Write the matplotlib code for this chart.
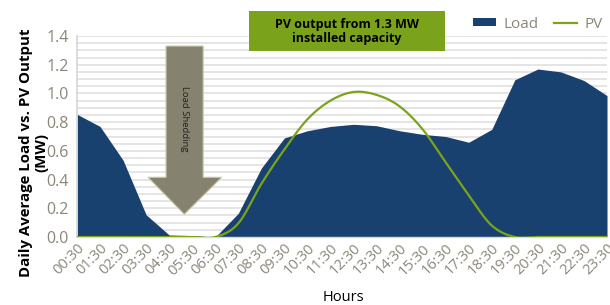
import numpy as np
import matplotlib
matplotlib.use("Agg")
import matplotlib.pyplot as plt
from matplotlib.patches import Polygon, Rectangle, Patch
from matplotlib.lines import Line2D

plt.rcParams['font.family'] = ['Open Sans', 'DejaVu Sans']

hours = ["00:30", "01:30", "02:30", "03:30", "04:30", "05:30", "06:30", "07:30",
         "08:30", "09:30", "10:30", "11:30", "12:30", "13:30", "14:30", "15:30",
         "16:30", "17:30", "18:30", "19:30", "20:30", "21:30", "22:30", "23:30"]
load = [0.855, 0.77, 0.535, 0.155, 0.014, 0.01, 0.0, 0.165,
        0.48, 0.69, 0.74, 0.77, 0.785, 0.775, 0.74, 0.715,
        0.70, 0.66, 0.75, 1.095, 1.17, 1.15, 1.09, 0.985]
pv = [0.0, 0.0, 0.0, 0.0, 0.0, 0.0, 0.0, 0.095,
      0.37, 0.61, 0.82, 0.95, 1.01, 0.99, 0.91, 0.75,
      0.52, 0.29, 0.08, 0.0, 0.0, 0.0, 0.0, 0.0]

LOAD_C = "#19416F"
PV_C = "#7BA31C"
GRAY = "#8A8778"


def smooth(x, y, n=24):
    # Catmull-Rom style rendering of a smoothed line through the data points
    x = np.asarray(x, float)
    y = np.asarray(y, float)
    xs, ys = [], []
    m = len(x)
    for i in range(m - 1):
        p0 = y[i - 1] if i > 0 else y[i]
        p1, p2 = y[i], y[i + 1]
        p3 = y[i + 2] if i + 2 < m else y[i + 1]
        t = np.linspace(0, 1, n, endpoint=False)
        t2, t3 = t * t, t * t * t
        yy = 0.5 * ((2 * p1) + (-p0 + p2) * t + (2 * p0 - 5 * p1 + 4 * p2 - p3) * t2
                    + (-p0 + 3 * p1 - 3 * p2 + p3) * t3)
        xs.append(x[i] + (x[i + 1] - x[i]) * t)
        ys.append(yy)
    xs.append([x[-1]])
    ys.append([y[-1]])
    return np.concatenate(xs), np.concatenate(ys)


fig = plt.figure(figsize=(6.1, 3.05), dpi=100)
ax = fig.add_axes([77 / 610, 1 - 237 / 305, 530 / 610, 201 / 305])

x = np.arange(len(hours))
ax.fill_between(x, 0, load, color=LOAD_C, lw=0, zorder=2)
sx, sy = smooth(x, pv)
ax.plot(sx, sy, color=PV_C, lw=1.6, zorder=3)

ax.set_xlim(0, len(hours) - 1)
ax.set_ylim(0, 1.4)
ax.set_yticks(np.arange(0, 1.41, 0.2))
ax.set_yticklabels([f"{v:.1f}" for v in np.arange(0, 1.41, 0.2)])
ax.set_yticks(np.arange(0, 1.41, 0.05), minor=True)
ax.yaxis.grid(True, which='both', color="#E3E3E3", lw=1.3, zorder=0)
ax.set_axisbelow(True)
ax.tick_params(axis='y', which='both', length=0, labelsize=11.5, labelcolor=GRAY, pad=6)
ax.set_xticks(x)
ax.set_xticklabels(hours, rotation=45, ha='right', rotation_mode='anchor')
ax.tick_params(axis='x', length=0, labelsize=10.5, labelcolor=GRAY, pad=3)
for s in ['top', 'right']:
    ax.spines[s].set_visible(False)
ax.spines['left'].set_color("#D9D9D9")
ax.spines['left'].set_linewidth(1.3)
ax.spines['bottom'].set_color("#D9D9D9")
ax.spines['bottom'].set_linewidth(1.0)

ax.set_ylabel("Daily Average Load vs. PV Output\n(MW)", fontsize=10.8,
              fontweight='bold', color='black', linespacing=1.05)
ax.yaxis.set_label_coords((48 - 77) / 530, (237 - 153) / 201)
ax.set_xlabel("Hours", fontsize=10.5, color='black')
ax.xaxis.set_label_coords((343 - 77) / 530, (237 - 290) / 201)

# Load shedding arrow (axes coordinates)
arrow = Polygon([(0.168, 0.950), (0.238, 0.950), (0.238, 0.297), (0.273, 0.297),
                 (0.2025, 0.113), (0.134, 0.297), (0.168, 0.297)],
                closed=True, transform=ax.transAxes, facecolor="#858270",
                edgecolor="#C9C6A8", lw=0.8, zorder=5, clip_on=False)
ax.add_patch(arrow)
ax.text(0.203, (237 - 119) / 201, "Load Shedding", rotation=270, transform=ax.transAxes,
        ha='center', va='center', fontsize=6.8, color="#222222", zorder=6)

# PV annotation box
box = Rectangle((0.3245, 0.925), 0.3695, 0.199, transform=ax.transAxes,
                facecolor="#7AA21B", edgecolor='none', zorder=5, clip_on=False)
ax.add_patch(box)
ax.text(0.509, 1.0245, "PV output from 1.3 MW\ninstalled capacity", transform=ax.transAxes,
        ha='center', va='center', fontsize=9, fontweight='bold', color='black',
        linespacing=1.1, zorder=6)

handles = [Patch(facecolor=LOAD_C, edgecolor='none'),
           Line2D([0], [0], color=PV_C, lw=1.6)]
leg = fig.legend(handles, ["Load", "PV"], loc='center right',
                 bbox_to_anchor=(609 / 610, 1 - 24 / 305), ncol=2, frameon=False,
                 fontsize=11, handlelength=1.5, handleheight=0.5, columnspacing=1.0,
                 handletextpad=0.5, borderaxespad=0)
for t in leg.get_texts():
    t.set_color(GRAY)

fig.savefig("out.png", dpi=100)
